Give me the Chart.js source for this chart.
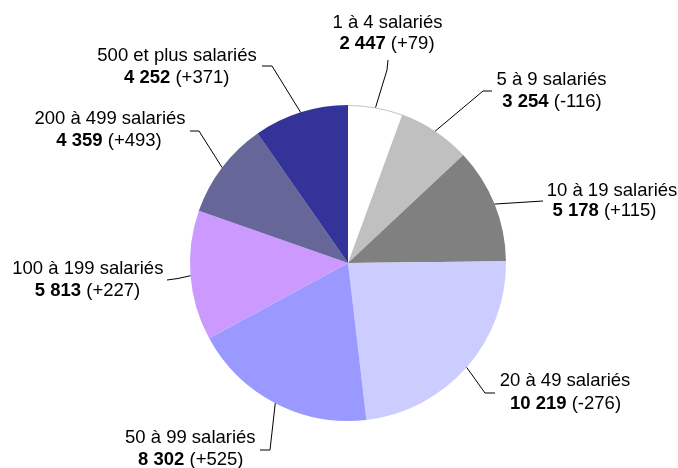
<!DOCTYPE html>
<html>
<head>
<meta charset="utf-8">
<script src="https://cdn.jsdelivr.net/npm/chart.js@4/dist/chart.umd.min.js"></script>
<style>
html,body{margin:0;padding:0;background:#fff;}
#wrap{width:678px;height:468px;}
</style>
</head>
<body>
<div id="wrap"><canvas id="c" width="678" height="468"></canvas></div>
<script>
const categories = ['1 à 4 salariés', '5 à 9 salariés', '10 à 19 salariés', '20 à 49 salariés',
  '50 à 99 salariés', '100 à 199 salariés', '200 à 499 salariés', '500 et plus salariés'];
const counts = [2447, 3254, 5178, 10219, 8302, 5813, 4359, 4252];
const changes = [79, -116, 115, -276, 525, 227, 493, 371];
const colors = ['#FFFFFF', '#C0C0C0', '#808080', '#CCCCFF', '#9999FF', '#CC99FF', '#666699', '#333399'];

function fmtNum(n) {
  return String(n).replace(/\B(?=(\d{3})+(?!\d))/g, ' ');
}
function fmtChange(n) {
  return '(' + (n >= 0 ? '+' : '') + n + ')';
}

// label layout: line1 center x/y, line2 center x/y, leader points after the slice edge
const labelLayout = [
  {x1: 387.5, y1: 22.5, x2: 387, y2: 44, pts: [[387, 70], [388, 60]]},
  {x1: 551.5, y1: 80, x2: 552, y2: 101.5, pts: [[483, 91], [492, 91]]},
  {x1: 612, y1: 190.5, x2: 604.5, y2: 211, pts: [[543, 201]]},
  {x1: 565, y1: 380.5, x2: 565.5, y2: 404, pts: [[485, 393], [495, 393]]},
  {x1: 190.3, y1: 438, x2: 190.8, y2: 460, pts: [[270, 450], [260, 450]]},
  {x1: 87.8, y1: 269, x2: 87.5, y2: 290.5, pts: [[178, 278.5], [167, 280]]},
  {x1: 110, y1: 119, x2: 109, y2: 140.5, pts: [[199, 131], [190, 131]]},
  {x1: 177, y1: 56, x2: 176.7, y2: 77.5, pts: [[272, 66], [262, 66]]}
];

const FONT = '"Liberation Sans", Arial, sans-serif';
const FS = 18.5;

const labelPlugin = {
  id: 'pieLabels',
  afterDatasetsDraw(chart) {
    const ctx = chart.ctx;
    const meta = chart.getDatasetMeta(0);
    ctx.save();
    // faint outline for the white slice's outer edge
    meta.data.forEach((arc, i) => {
      if (colors[i] === '#FFFFFF') {
        const p = arc.getProps(['x', 'y', 'startAngle', 'endAngle', 'outerRadius'], true);
        ctx.beginPath();
        ctx.strokeStyle = '#c4c4c4';
        ctx.lineWidth = 1;
        ctx.arc(p.x, p.y, p.outerRadius - 0.5, p.startAngle, p.endAngle);
        ctx.stroke();
      }
    });
    meta.data.forEach((arc, i) => {
      const p = arc.getProps(['x', 'y', 'startAngle', 'endAngle', 'outerRadius'], true);
      const mid = (p.startAngle + p.endAngle) / 2;
      const sx = p.x + Math.cos(mid) * p.outerRadius;
      const sy = p.y + Math.sin(mid) * p.outerRadius;
      const L = labelLayout[i];
      ctx.beginPath();
      ctx.strokeStyle = '#000';
      ctx.lineWidth = 1;
      ctx.moveTo(sx, sy);
      L.pts.forEach(pt => ctx.lineTo(pt[0], pt[1]));
      ctx.stroke();

      ctx.fillStyle = '#000';
      ctx.textBaseline = 'middle';
      ctx.textAlign = 'center';
      ctx.font = FS + 'px ' + FONT;
      ctx.fillText(categories[i], L.x1, L.y1);

      const boldTxt = fmtNum(counts[i]);
      const regTxt = ' ' + fmtChange(changes[i]);
      ctx.font = 'bold ' + FS + 'px ' + FONT;
      const wb = ctx.measureText(boldTxt).width;
      ctx.font = FS + 'px ' + FONT;
      const wr = ctx.measureText(regTxt).width;
      const left = L.x2 - (wb + wr) / 2;
      ctx.textAlign = 'left';
      ctx.font = 'bold ' + FS + 'px ' + FONT;
      ctx.fillText(boldTxt, left, L.y2);
      ctx.font = FS + 'px ' + FONT;
      ctx.fillText(regTxt, left + wb, L.y2);
    });
    ctx.restore();
  }
};

new Chart(document.getElementById('c'), {
  type: 'pie',
  data: {
    labels: categories,
    datasets: [{
      data: counts,
      backgroundColor: colors,
      borderWidth: 0,
      hoverOffset: 0
    }]
  },
  options: {
    responsive: false,
    animation: false,
    events: [],
    layout: {padding: {left: 190, right: 172, top: 105, bottom: 47}},
    plugins: {
      legend: {display: false},
      tooltip: {enabled: false}
    }
  },
  plugins: [labelPlugin]
});
</script>
</body>
</html>
